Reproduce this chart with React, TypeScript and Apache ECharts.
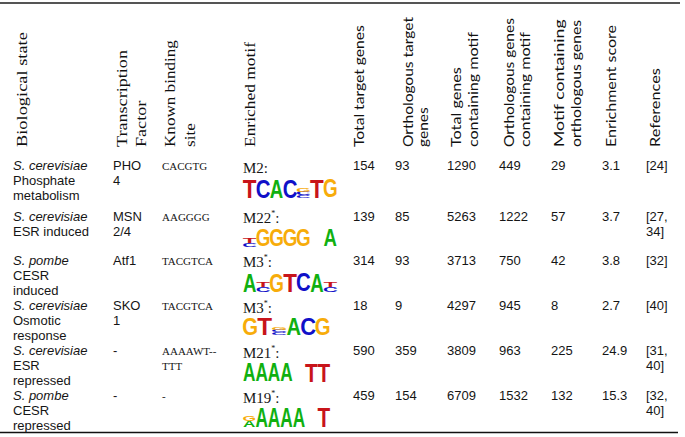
import React, { useEffect, useRef } from "react";
import * as echarts from "echarts";

// ---------- DATA ----------
const headerLabels: string[][] = [
  ["Biological state"],
  ["Transcription", "Factor"],
  ["Known binding", "site"],
  ["Enriched motif"],
  ["Total target genes"],
  ["Orthologous target", "genes"],
  ["Total genes", "containing motif"],
  ["Orthologous genes", "containing motif"],
  ["Motif containing", "orthologous genes"],
  ["Enrichment score"],
  ["References"],
];
const speciesNames = ["S. cerevisiae", "S. cerevisiae", "S. pombe", "S. cerevisiae", "S. cerevisiae", "S. pombe"];
const stateLines: string[][] = [
  ["Phosphate", "metabolism"],
  ["ESR induced"],
  ["CESR", "induced"],
  ["Osmotic", "response"],
  ["ESR", "repressed"],
  ["CESR", "repressed"],
];
const transcriptionFactors: string[][] = [["PHO", "4"], ["MSN", "2/4"], ["Atf1"], ["SKO", "1"], ["-"], ["-"]];
const knownSites: string[][] = [["CACGTG"], ["AAGGGG"], ["TACGTCA"], ["TACGTCA"], ["AAAAWT--", "TTT"], ["-"]];
const motifIds = ["M2", "M22", "M3", "M3", "M21", "M19"];
const motifStar = [false, true, true, true, true, true];
const totalTargetGenes = [154, 139, 314, 18, 590, 459];
const orthologousTargetGenes = [93, 85, 93, 9, 359, 154];
const totalGenesContainingMotif = [1290, 5263, 3713, 4297, 3809, 6709];
const orthologousGenesContainingMotif = [449, 1222, 750, 945, 963, 1532];
const motifContainingOrthologous = [29, 57, 42, 8, 225, 132];
const enrichmentScores = ["3.1", "3.7", "3.8", "2.7", "24.9", "15.3"];
const referenceLines: string[][] = [["[24]"], ["[27,", "34]"], ["[32]"], ["[40]"], ["[31,", "40]"], ["[32,", "40]"]];

// sequence logos: columns, each a stack of [letter, relative height] top -> bottom
type Col = [string, number][];
const logoM2: Col[] = [[["T", 1]], [["C", 1]], [["A", 1]], [["C", 1]], [["G", 0.2], ["C", 0.18], ["C", 0.17]], [["T", 1]], [["G", 1]]];
const logoM22: Col[] = [[["T", 0.3], ["C", 0.25]], [["G", 1]], [["G", 1]], [["G", 1]], [["G", 1]], [], [["A", 1]]];
const logoM3a: Col[] = [[["A", 1]], [["T", 0.28], ["C", 0.24]], [["G", 1]], [["T", 1]], [["C", 1]], [["A", 1]], [["T", 0.28], ["C", 0.24]]];
const logoM3b: Col[] = [[["G", 1]], [["T", 1]], [["G", 0.15], ["C", 0.15], ["C", 0.15]], [["A", 1]], [["C", 1]], [["G", 1]]];
const logoM21: Col[] = [[["A", 1]], [["A", 1]], [["A", 1]], [["A", 1]], [], [["T", 1]], [["T", 1]]];
const logoM19: Col[] = [[["G", 0.25], ["A", 0.3]], [["A", 1]], [["A", 1]], [["A", 1]], [["A", 1]], [], [["T", 1]]];
const logos = [logoM2, logoM22, logoM3a, logoM3b, logoM21, logoM19];

// ---------- LAYOUT ----------
const SERIF = '"Liberation Serif", "Times New Roman", serif';
const SANS = '"Liberation Sans", Arial, sans-serif';
const HSANS = 'Lato, "Open Sans", sans-serif';
const HEADER_BOTTOM = 147;
const headerSerif = [true, true, true, true, false, false, false, false, false, false, false];
const headerCenters = [[22.5], [122, 141], [170, 190], [250], [358], [407, 422], [455, 472], [508, 524], [558, 575], [610], [654]];
// top end of each header line (sets the stretch along the text); null = reuse first line's stretch
const headerTops: (number | null)[][] = [[32], [50, null], [40, null], [42], [25], [17, null], [67, 32], [18, 32], [19, 20], [25], [68]];
const ROW_Y = [165, 216, 260, 305, 350, 395];
const LINE_H = 15;
const COL_X = [13, 113, 162, 243];
const NUM_X = [353, 395, 447, 499, 551, 602, 646];
const MLABEL_Y = [168, 218, 262, 308, 353, 398];
const LOGO_BOTTOM = [198, 247, 292, 335, 382, 427];
const LOGO_HEIGHT = [18, 17, 19, 17, 19, 20];
const LOGO_WIDTH = [94, 94, 94, 87, 87, 87];
const LETTER_COLORS: Record<string, string> = { A: "#10b010", C: "#1010c8", G: "#f7ac0a", T: "#c8141a" };
const LETTER_INK: Record<string, number> = { A: 0.7, C: 0.64, G: 0.69, T: 0.58 };

export default function App() {
  const ref = useRef<HTMLDivElement>(null);
  useEffect(() => {
    const el = ref.current!;
    const chart = echarts.init(el, null, { renderer: "svg" });
    const canvas = document.createElement("canvas");
    const ctx = canvas.getContext("2d")!;
    const measure = (t: string, font: string) => {
      ctx.font = font;
      return ctx.measureText(t).width;
    };
    const els: any[] = [];
    const txt = (text: string, x: number, y: number, o: any = {}) => {
      els.push({
        type: "text",
        x,
        y,
        silent: true,
        rotation: o.rotation || 0,
        scaleX: o.scaleX || 1,
        scaleY: o.scaleY || 1,
        style: {
          text,
          fontSize: o.fontSize || 13,
          fontFamily: o.fontFamily || SANS,
          fontStyle: o.fontStyle || "normal",
          fontWeight: o.fontWeight || "normal",
          fill: o.fill || "#151515",
          align: o.align || "left",
          verticalAlign: "middle",
        },
      });
    };

    // rules
    els.push({ type: "line", silent: true, shape: { x1: 0, y1: 3, x2: 680, y2: 3 }, style: { stroke: "#555", lineWidth: 2 } });
    els.push({ type: "line", silent: true, shape: { x1: 0, y1: 432.5, x2: 678, y2: 432.5 }, style: { stroke: "#111", lineWidth: 1.5 } });

    // headers (rotated, reading bottom to top)
    headerLabels.forEach((lines, i) => {
      const serif = headerSerif[i];
      const fs = serif ? 15 : 14;
      const fam = serif ? SERIF : HSANS;
      const font = `${fs}px ${fam}`;
      let lastSx = 1;
      lines.forEach((line, j) => {
        const top = headerTops[i][j];
        const sx = top == null ? lastSx : (HEADER_BOTTOM - top) / measure(line, font);
        lastSx = sx;
        txt(line, headerCenters[i][j], HEADER_BOTTOM, {
          rotation: Math.PI / 2,
          scaleX: sx,
          fontSize: fs,
          fontFamily: fam,
          fill: "#111",
        });
      });
    });

    // rows
    ROW_Y.forEach((y0, r) => {
      txt(speciesNames[r], COL_X[0], y0, { fontStyle: "italic" });
      stateLines[r].forEach((l, k) => txt(l, COL_X[0], y0 + LINE_H * (k + 1)));
      transcriptionFactors[r].forEach((l, k) => txt(l, COL_X[1], y0 + LINE_H * k));
      knownSites[r].forEach((l, k) => txt(l, COL_X[2], y0 + 1 + LINE_H * k, { fontFamily: SERIF, fontSize: 11 }));
      // motif label
      const my = MLABEL_Y[r];
      const mFont = `15px ${SERIF}`;
      const mw = measure(motifIds[r], mFont);
      txt(motifIds[r], COL_X[3], my, { fontFamily: SERIF, fontSize: 15 });
      let cx = COL_X[3] + mw;
      if (motifStar[r]) {
        txt("*", cx, my - 5, { fontFamily: SERIF, fontSize: 8 });
        cx += measure("*", `8px ${SERIF}`);
      }
      txt(":", cx, my, { fontFamily: SERIF, fontSize: 15 });
      // logo
      const cols = logos[r];
      const pw = LOGO_WIDTH[r] / cols.length;
      const H = LOGO_HEIGHT[r];
      cols.forEach((col, i) => {
        let yb = LOGO_BOTTOM[r];
        for (let k = col.length - 1; k >= 0; k--) {
          const [letter, frac] = col[k];
          const h = frac * H;
          els.push({
            type: "text",
            silent: true,
            x: COL_X[3] + pw * (i + 0.5),
            y: yb - h / 2,
            scaleX: (pw * 0.97) / (LETTER_INK[letter] * 20),
            scaleY: h / 14.32,
            style: {
              text: letter,
              fontSize: 20,
              fontWeight: "bold",
              fontFamily: SANS,
              fill: LETTER_COLORS[letter],
              align: "center",
              verticalAlign: "middle",
            },
          });
          yb -= h;
        }
      });
      // numbers
      const nums = [
        String(totalTargetGenes[r]),
        String(orthologousTargetGenes[r]),
        String(totalGenesContainingMotif[r]),
        String(orthologousGenesContainingMotif[r]),
        String(motifContainingOrthologous[r]),
        enrichmentScores[r],
      ];
      nums.forEach((n, c) => txt(n, NUM_X[c], y0));
      referenceLines[r].forEach((l, k) => txt(l, NUM_X[6], y0 + LINE_H * k));
    });

    chart.setOption({ animation: false, backgroundColor: "#ffffff", graphic: { elements: els } });
    return () => chart.dispose();
  }, []);
  return <div ref={ref} style={{ position: "fixed", left: 0, top: 0, width: 685, height: 437, background: "#fff" }} />;
}
